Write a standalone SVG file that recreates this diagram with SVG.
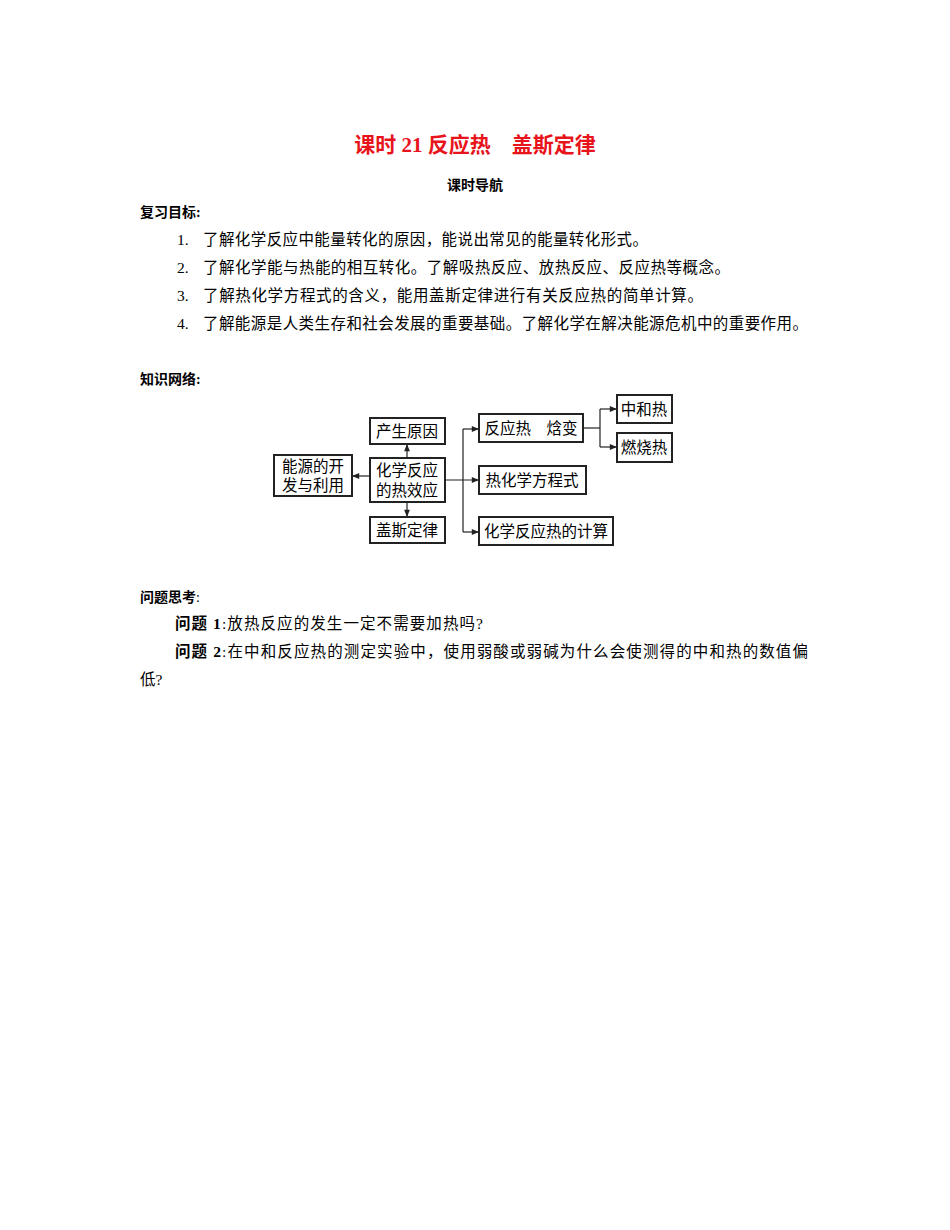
<svg xmlns="http://www.w3.org/2000/svg" width="950" height="1230" viewBox="0 0 950 1230">
<style>
text{font-family:"Liberation Serif","Noto Sans CJK SC",serif;font-size:15.5px;fill:#000}
.b{font-weight:bold}
.box{fill:#fff;stroke:#222;stroke-width:2}
.n{font-size:15.5px;text-anchor:middle}
.c{fill:none;stroke:#222;stroke-width:1.2}
</style>
<defs><marker id="a" viewBox="0 0 10 10" refX="10" refY="5" markerWidth="8" markerHeight="6" orient="auto"><path d="M0,1L10,5L0,9z" fill="#222"/></marker></defs>
<rect width="950" height="1230" fill="#fff"/>
<text x="475" y="152" text-anchor="middle" class="b" style="font-size:21px;fill:#e8141c">课时 21  反应热　盖斯定律</text>
<text x="475" y="190" text-anchor="middle" class="b" style="font-size:14px">课时导航</text>
<text x="140" y="217" class="b" style="font-size:14px">复习目标:</text>
<text x="177" y="245">1.</text><text x="203" y="245" textLength="445" lengthAdjust="spacing">了解化学反应中能量转化的原因，能说出常见的能量转化形式。</text>
<text x="177" y="273">2.</text><text x="203" y="273" textLength="527" lengthAdjust="spacing">了解化学能与热能的相互转化。了解吸热反应、放热反应、反应热等概念。</text>
<text x="177" y="301">3.</text><text x="203" y="301" textLength="500" lengthAdjust="spacing">了解热化学方程式的含义，能用盖斯定律进行有关反应热的简单计算。</text>
<text x="177" y="329">4.</text><text x="203" y="329" textLength="605" lengthAdjust="spacing">了解能源是人类生存和社会发展的重要基础。了解化学在解决能源危机中的重要作用。</text>
<text x="140" y="384" class="b" style="font-size:14px">知识网络:</text>
<g id="connectors">
<path class="c" d="M370,476H352" marker-end="url(#a)"/>
<path class="c" d="M407,458V444" marker-end="url(#a)"/>
<path class="c" d="M407,502V517" marker-end="url(#a)"/>
<path class="c" d="M445,480H479" marker-end="url(#a)"/>
<path class="c" d="M463,429V532"/>
<path class="c" d="M463,429H479" marker-end="url(#a)"/>
<path class="c" d="M463,532H479" marker-end="url(#a)"/>
<path class="c" d="M583,428H600"/>
<path class="c" d="M600,409V447"/>
<path class="c" d="M600,409H617" marker-end="url(#a)"/>
<path class="c" d="M600,447H617" marker-end="url(#a)"/>
</g>
<g id="n1"><rect class="box" x="274" y="455" width="78" height="41"/><text class="n" x="313" y="472">能源的开</text><text class="n" x="313" y="491">发与利用</text></g>
<g id="n2"><rect class="box" x="370" y="418" width="75" height="26"/><text class="n" x="407" y="437">产生原因</text></g>
<g id="n3"><rect class="box" x="370" y="458" width="75" height="44"/><text class="n" x="407" y="476">化学反应</text><text class="n" x="407" y="496">的热效应</text></g>
<g id="n4"><rect class="box" x="370" y="517" width="75" height="26"/><text class="n" x="407" y="536">盖斯定律</text></g>
<g id="n5"><rect class="box" x="479" y="414" width="104" height="28"/><text class="n" x="531" y="434">反应热　焓变</text></g>
<g id="n6"><rect class="box" x="479" y="466" width="107" height="28"/><text class="n" x="532" y="486">热化学方程式</text></g>
<g id="n7"><rect class="box" x="479" y="517" width="134" height="28"/><text class="n" x="546" y="537">化学反应热的计算</text></g>
<g id="n8"><rect class="box" x="617" y="395" width="55" height="28"/><text class="n" x="644" y="415">中和热</text></g>
<g id="n9"><rect class="box" x="617" y="433" width="55" height="29"/><text class="n" x="644" y="453">燃烧热</text></g>
<text x="140" y="602" class="b" style="font-size:14px">问题思考<tspan font-weight="normal">:</tspan></text>
<text x="175" y="629" textLength="308" lengthAdjust="spacing"><tspan class="b">问题 1</tspan>:放热反应的发生一定不需要加热吗?</text>
<text x="175" y="657" textLength="633" lengthAdjust="spacing"><tspan class="b">问题 2</tspan>:在中和反应热的测定实验中，使用弱酸或弱碱为什么会使测得的中和热的数值偏</text>
<text x="140" y="685">低?</text>
</svg>
